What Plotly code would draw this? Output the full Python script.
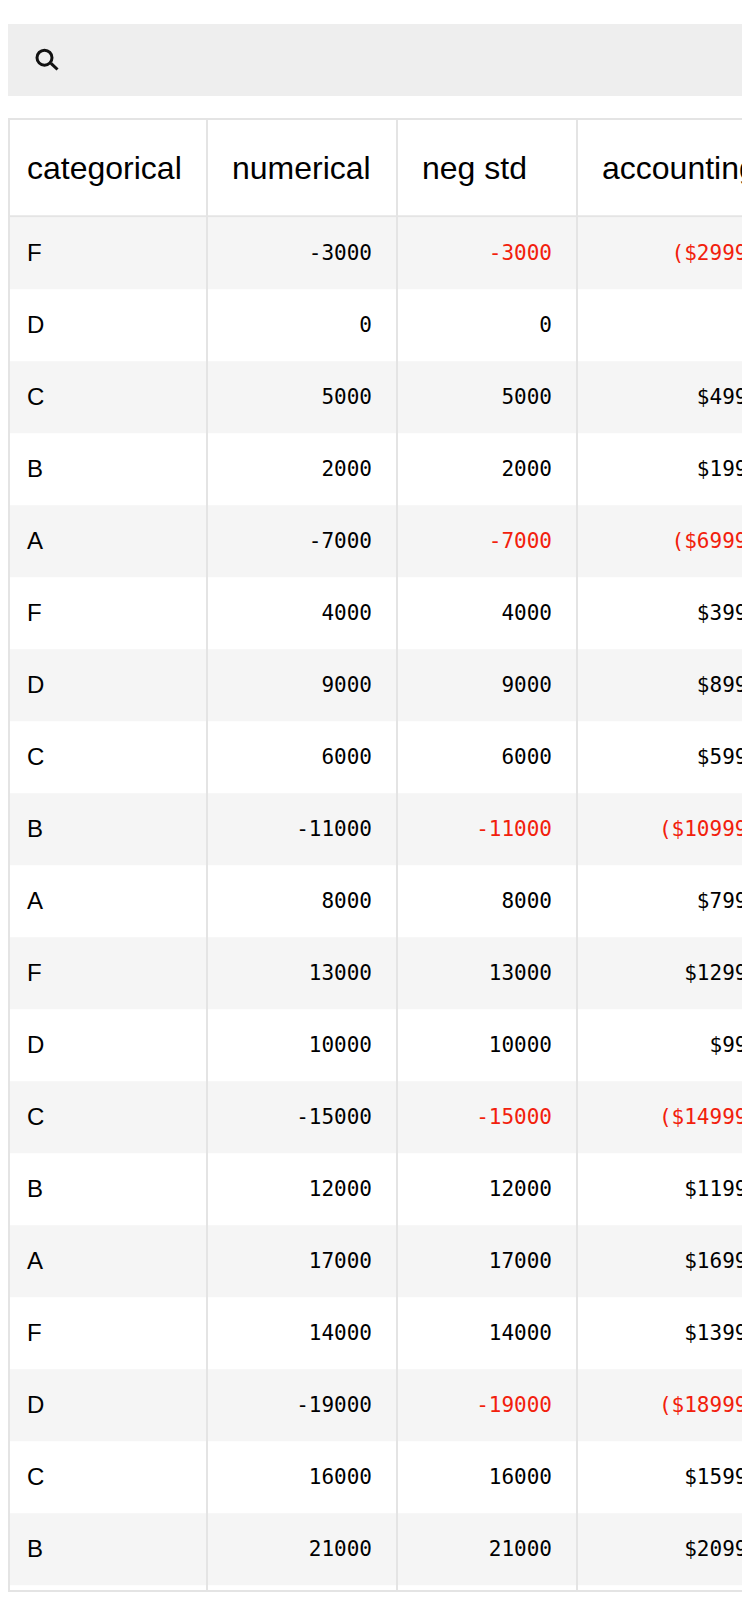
import plotly.graph_objects as go

# Table content
COLUMNS = ["categorical", "numerical", "neg std", "accounting"]
CATEGORICAL = ["F", "D", "C", "B", "A", "F", "D", "C", "B", "A",
               "F", "D", "C", "B", "A", "F", "D", "C", "B"]
NUMERICAL = [-3000, 0, 5000, 2000, -7000, 4000, 9000, 6000, -11000, 8000,
             13000, 10000, -15000, 12000, 17000, 14000, -19000, 16000, 21000]
NEG_STD = [-3000, 0, 5000, 2000, -7000, 4000, 9000, 6000, -11000, 8000,
           13000, 10000, -15000, 12000, 17000, 14000, -19000, 16000, 21000]
ACCOUNTING = [-2999.99, None, 4999.99, 1999.99, -6999.99, 3999.99, 8999.99, 5999.99,
              -10999.99, 7999.99, 12999.99, 999.99, -14999.99, 11999.99, 16999.99,
              13999.99, -18999.99, 15999.99, 20999.99]

# page geometry (the html body keeps its 8px margin, so the figure sits at 8,8)
FIG_W, FIG_H = 742, 1584
ROW_H = 72
TABLE_TOP = 110      # top border of the header
HEADER_BOT = 208.3   # header bottom border
BODY_TOP = 209.3
EDGES = [-6, 199, 389, 569, 815]   # column boundaries, in px
PAD = 25
NUDGE = 0.025        # baseline correction, in rows
X_LO, X_HI = -20, FIG_W + 20     # horizontal rules run past the edges

SANS = "Liberation Sans, Arial, sans-serif"
MONO = "DejaVu Sans Mono, monospace"
GRID = "#e4e4e4"
NEG = "#f2200c"


def py(px):
    return 1 - px / FIG_H


def fmt_acc(v):
    if v is None:
        return ""
    if v < 0:
        return "($%.2f)" % -v
    return "$%.2f" % v


n = len(CATEGORICAL)
rows = list(range(n))
ys = [k + NUDGE for k in rows]
visible = (FIG_H - BODY_TOP) / ROW_H

fig = go.Figure()

fig.add_scatter(x=[EDGES[0] + PAD] * n, y=ys, mode="text", text=CATEGORICAL,
                textposition="middle right",
                textfont=dict(family=SANS, size=24, color="#000"))
fig.add_scatter(x=[EDGES[2] - PAD] * n, y=ys, mode="text",
                text=[str(v) for v in NUMERICAL], textposition="middle left",
                textfont=dict(family=MONO, size=21, color="#000"))
fig.add_scatter(x=[EDGES[3] - PAD] * n, y=ys, mode="text",
                text=[str(v) for v in NEG_STD], textposition="middle left",
                textfont=dict(family=MONO, size=21,
                              color=[NEG if v < 0 else "#000" for v in NEG_STD]))
fig.add_scatter(x=[EDGES[4] - PAD] * n, y=ys, mode="text",
                text=[fmt_acc(v) for v in ACCOUNTING], textposition="middle left",
                textfont=dict(family=MONO, size=21,
                              color=[NEG if (v or 0) < 0 else "#000" for v in ACCOUNTING]))
fig.update_traces(hoverinfo="skip", cliponaxis=True, showlegend=False)

shapes = []
# search bar
shapes.append(dict(type="rect", xref="x", yref="paper", x0=X_LO, x1=X_HI,
                   y0=py(88), y1=py(16), fillcolor="#eeeeee", line_width=0, layer="below"))
shapes.append(dict(type="circle", xref="x", yref="paper", x0=29, x1=44,
                   y0=py(57.2), y1=py(42.2), line=dict(color="#111", width=3)))
shapes.append(dict(type="line", xref="x", yref="paper", x0=43, x1=49.5,
                   y0=py(55.3), y1=py(61.5), line=dict(color="#111", width=3)))

# striped rows
for k in rows:
    if k % 2 == 0:
        shapes.append(dict(type="rect", xref="x", yref="y", x0=X_LO, x1=X_HI,
                           y0=k - 0.5, y1=k + 0.5, fillcolor="#f5f5f5",
                           line_width=0, layer="below"))

# grid lines, drawn over the stripes
for e in [1] + EDGES[1:4]:
    shapes.append(dict(type="line", xref="x", yref="paper", x0=e, x1=e,
                       y0=0, y1=py(TABLE_TOP), line=dict(color=GRID, width=2), layer="above"))
for yy in [TABLE_TOP + 1, HEADER_BOT, FIG_H - 1]:
    shapes.append(dict(type="line", xref="x", yref="paper", x0=X_LO, x1=X_HI,
                       y0=py(yy), y1=py(yy), line=dict(color=GRID, width=2), layer="above"))

# header labels
annotations = [dict(x=EDGES[i] + PAD, y=py((TABLE_TOP + HEADER_BOT) / 2 + 1), xref="x", yref="paper",
                    text=c, showarrow=False, xanchor="left", yanchor="middle",
                    borderpad=0, borderwidth=0,
                    font=dict(family=SANS, size=32, color="#000"))
               for i, c in enumerate(COLUMNS)]

fig.update_layout(
    width=FIG_W, height=FIG_H,
    margin=dict(l=0, r=0, t=0, b=0),
    paper_bgcolor="white", plot_bgcolor="rgba(0,0,0,0)",
    shapes=shapes, annotations=annotations,
    xaxis=dict(range=[0, FIG_W], visible=False, fixedrange=True),
    yaxis=dict(range=[visible - 0.5, -0.5], domain=[0, py(BODY_TOP)],
               visible=False, fixedrange=True),
)

fig.write_html("out.html")
